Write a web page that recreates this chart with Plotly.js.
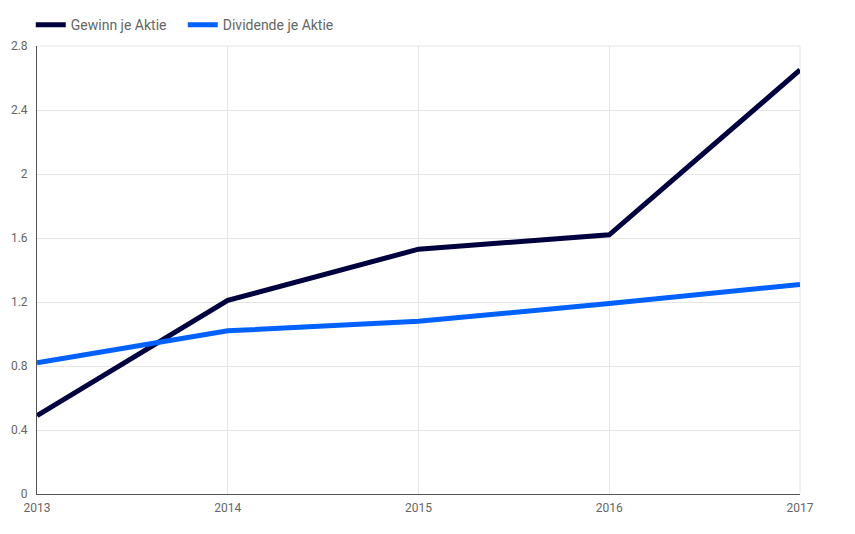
<!DOCTYPE html>
<html>
<head>
<meta charset="utf-8">
<script src="https://cdn.plot.ly/plotly-3.0.1.min.js"></script>
<style>html,body{margin:0;padding:0;background:#fff;}#chart{width:855px;height:534px;}</style>
</head>
<body>
<div id="chart"></div>
<script>
const years = [2013, 2014, 2015, 2016, 2017];
const gewinn = [0.49, 1.21, 1.53, 1.62, 2.65];
const dividende = [0.82, 1.02, 1.08, 1.19, 1.31];
const seriesNames = ["Gewinn je Aktie", "Dividende je Aktie"];
const yTicks = [0, 0.4, 0.8, 1.2, 1.6, 2, 2.4, 2.8];

const traces = [
  {x: years, y: gewinn, name: seriesNames[0], type: 'scatter', mode: 'lines',
   line: {color: '#02013f', width: 5}},
  {x: years, y: dividende, name: seriesNames[1], type: 'scatter', mode: 'lines',
   line: {color: '#0061ff', width: 5}}
];

const layout = {
  width: 855, height: 534,
  margin: {l: 37, r: 55, t: 46, b: 40},
  paper_bgcolor: '#fff', plot_bgcolor: '#fff',
  font: {family: 'Roboto, sans-serif', size: 12, color: '#666'},
  showlegend: true,
  legend: {orientation: 'h', xref: 'container', yref: 'container', x: 0.036, y: 0.983, xanchor: 'left', yanchor: 'top',
           font: {size: 14, color: '#666'}, itemwidth: 30, tracegroupgap: 0,
           entrywidth: 107, entrywidthmode: 'pixels'},
  xaxis: {range: [2013, 2017], tickvals: years, ticktext: years.map(String),
          showgrid: true, gridcolor: '#e6e6e6', showline: true, linecolor: '#555', linewidth: 1,
          zeroline: false, ticks: '', ticklabelstandoff: 3, tickfont: {size: 12, color: '#666'}, fixedrange: true},
  yaxis: {range: [0, 2.8], tickvals: yTicks, showgrid: true, gridcolor: '#e6e6e6',
          showline: true, linecolor: '#555', linewidth: 1, zeroline: false, ticks: '',
          ticklabelstandoff: 6, tickfont: {size: 12, color: '#666'}, fixedrange: true},
  shapes: [
    {type: 'line', xref: 'paper', yref: 'paper', x0: 1, x1: 1, y0: 0, y1: 1, line: {color: '#e6e6e6', width: 1}, layer: 'below'},
    {type: 'line', xref: 'paper', yref: 'paper', x0: 0, x1: 1, y0: 1, y1: 1, line: {color: '#e6e6e6', width: 1}, layer: 'below'}
  ]
};

Plotly.newPlot('chart', traces, layout, {displayModeBar: false, staticPlot: true});
</script>
</body>
</html>
